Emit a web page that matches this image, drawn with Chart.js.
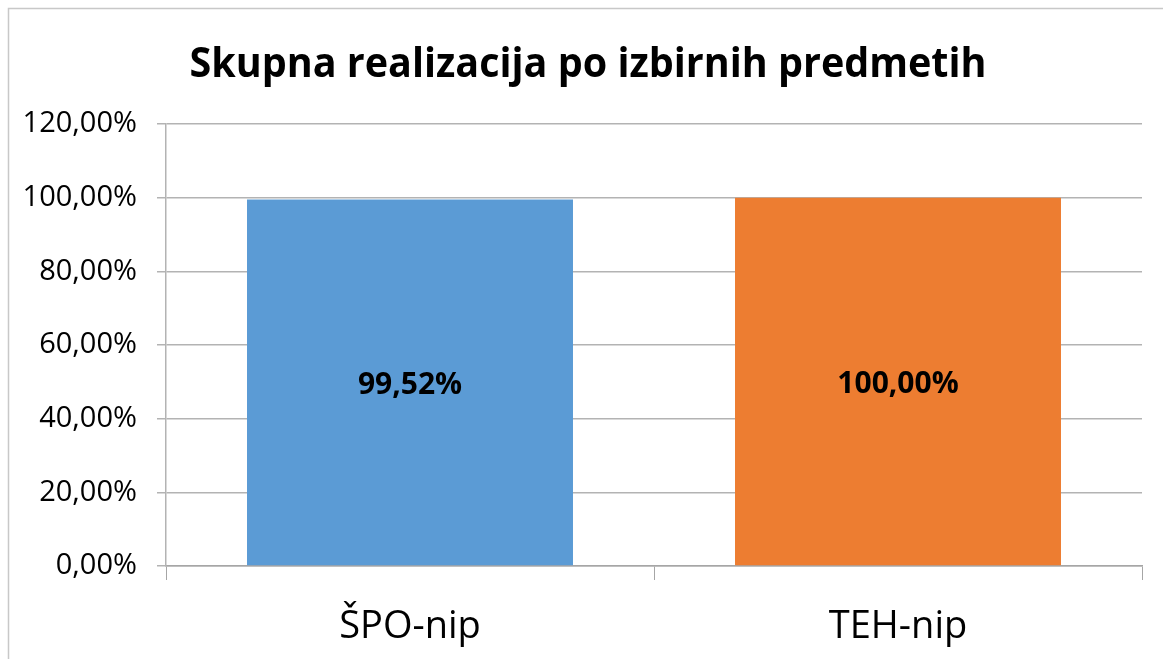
<!DOCTYPE html>
<html>
<head>
<meta charset="utf-8">
<script src="https://cdn.jsdelivr.net/npm/chart.js@4.4.1/dist/chart.umd.min.js"></script>
<style>
  html, body { margin: 0; padding: 0; background: #fff; }
  #wrap { width: 1163px; height: 659px; position: relative; }
</style>
</head>
<body>
<div id="wrap"><canvas id="myChart" width="1163" height="659"></canvas></div>
<script>
'use strict';

// ** DATA **

let chartTitle = 'Skupna realizacija po izbirnih predmetih';
let categories = ['ŠPO-nip', 'TEH-nip'];
let realizacija = [99.52, 100.00];
let barColors = ['#5B9BD5', '#ED7D31'];
let yTicks = [0, 20, 40, 60, 80, 100, 120];

const FONT = '"Open Sans", "Noto Sans", sans-serif';

function fmtPct(v) {
  return v.toFixed(2).replace('.', ',') + '%';
}

// ** PLUGINS **

// grey frame round the whole chart, like the Excel chart area
let framePlugin = {
  id: 'frame',
  afterDraw(chart) {
    let c = chart.ctx;
    c.save();
    c.strokeStyle = '#c8c8c8';
    c.lineWidth = 1.5;
    c.strokeRect(8.5, 8.5, chart.width + 20, chart.height + 20);
    c.restore();
  }
};

// title drawn by hand so it sits a little right of the canvas centre
let titlePlugin = {
  id: 'bigTitle',
  afterDraw(chart) {
    let c = chart.ctx;
    c.save();
    c.font = 'bold 42px ' + FONT;
    c.fillStyle = '#000';
    c.textAlign = 'center';
    c.textBaseline = 'alphabetic';
    c.fillText(chartTitle, 588, 77, 797); // squeeze to the narrower original width
    c.restore();
  }
};

// value labels in the middle of each bar
let valueLabels = {
  id: 'valueLabels',
  afterDatasetsDraw(chart) {
    let c = chart.ctx;
    let meta = chart.getDatasetMeta(0);
    c.save();
    c.font = 'bold 30px ' + FONT;
    c.fillStyle = '#000';
    c.textAlign = 'center';
    c.textBaseline = 'middle';
    meta.data.forEach(function (bar, i) {
      let midY = (bar.y + bar.base) / 2;
      c.fillText(fmtPct(realizacija[i]), bar.x, midY + 3);
    });
    c.restore();
  }
};

// ** CHART **

const ctx = document.getElementById('myChart');

new Chart(ctx, {
  type: 'bar',
  data: {
    labels: categories,
    datasets: [{
      data: realizacija,
      backgroundColor: barColors,
      borderWidth: 0,
      barPercentage: 0.668,
      categoryPercentage: 1
    }]
  },
  options: {
    responsive: false,
    animation: false,
    layout: { padding: { left: 0, right: 21, top: 124, bottom: 0 } },
    plugins: {
      legend: { display: false },
      tooltip: { enabled: false },
      title: { display: false }
    },
    scales: {
      x: {
        grid: {
          offset: true,
          drawOnChartArea: false,
          drawTicks: true,
          tickLength: 14,
          color: '#a6a6a6'
        },
        border: { color: '#a6a6a6', width: 1.5 },
        ticks: {
          color: '#000',
          font: { family: FONT, size: 38 },
          padding: 24
        },
        afterFit(axis) { axis.height = 93; }
      },
      y: {
        min: 0,
        max: 120,
        afterBuildTicks(axis) {
          axis.ticks = yTicks.map(function (v) { return { value: v }; });
        },
        grid: {
          color: '#b3b3b3',
          lineWidth: 1.5,
          tickLength: 9
        },
        border: { color: '#b3b3b3', width: 1.5 },
        ticks: {
          color: '#000',
          font: { family: FONT, size: 29 },
          padding: 20,
          callback: function (v) { return fmtPct(v); }
        },
        afterFit(axis) { axis.width = 166; }
      }
    }
  },
  plugins: [framePlugin, titlePlugin, valueLabels]
});
</script>
</body>
</html>
